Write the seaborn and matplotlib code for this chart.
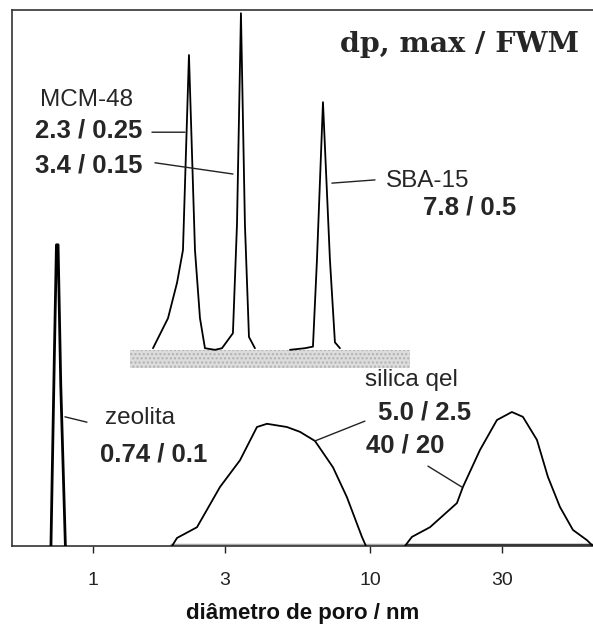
import matplotlib
matplotlib.use("Agg")
import matplotlib.pyplot as plt
import seaborn as sns
import pandas as pd

# ---- data (pore diameter in nm, relative intensity) ----
zeolite_x = [0.705, 0.725, 0.738, 0.748, 0.765, 0.795]
zeolite_y = [0.0, 0.35, 0.562, 0.562, 0.30, 0.0]

mcm48_x = [1.647, 1.866, 2.011, 2.113, 2.221, 2.335, 2.434, 2.537, 2.757,
           2.923, 3.201, 3.311, 3.422, 3.537, 3.658, 3.844]
mcm48_y = [0.369, 0.425, 0.491, 0.552, 0.916, 0.552, 0.425, 0.369, 0.366,
           0.369, 0.397, 0.60, 0.994, 0.60, 0.390, 0.369]

sba15_x = [5.143, 5.826, 6.227, 6.438, 6.768, 7.171, 7.475, 7.794]
sba15_y = [0.366, 0.369, 0.372, 0.534, 0.828, 0.534, 0.380, 0.369]

silica1_x = [1.929, 2.011, 2.374, 2.874, 3.395, 3.909, 4.249, 5.015, 5.589,
             6.332, 7.353, 8.260, 9.357, 9.674]
silica1_y = [0.0, 0.015, 0.035, 0.110, 0.160, 0.222, 0.228, 0.222, 0.213,
             0.196, 0.147, 0.091, 0.017, 0.0]

silica2_x = [13.38, 14.18, 16.47, 20.61, 21.66, 24.96, 28.74, 32.55, 35.67,
             40.09, 43.92, 48.53, 54.07, 60.73, 63.85]
silica2_y = [0.0, 0.017, 0.035, 0.080, 0.110, 0.179, 0.235, 0.250, 0.241,
             0.198, 0.129, 0.073, 0.030, 0.011, 0.0]

tick_values = [1, 3, 10, 30]
tick_labels = ["1", "3", "10", "30"]

frames = []
for name, xs, ys in [("zeolita", zeolite_x, zeolite_y),
                     ("MCM-48", mcm48_x, mcm48_y),
                     ("SBA-15", sba15_x, sba15_y),
                     ("silica gel 1", silica1_x, silica1_y),
                     ("silica gel 2", silica2_x, silica2_y)]:
    frames.append(pd.DataFrame({"material": name, "d": xs, "I": ys}))
df = pd.concat(frames, ignore_index=True)

sns.set_theme(style="white")
plt.rcParams["font.family"] = ["Liberation Sans", "DejaVu Sans"]

fig = plt.figure(figsize=(5.93, 6.41), dpi=100)
ax = fig.add_axes([12 / 593, 95 / 641, 581 / 593, 536 / 641])
ax.set_xscale("log")

# gray hatched baseline band of the inset
ax.fill_between([1.36, 13.95], 0.332, 0.366, facecolor="#dcdcdc",
                edgecolor="#b0b0b0", hatch="....", linewidth=0, zorder=1)

# gray/dark baseline along bottom axis
ax.plot([1.9, 13.5], [0.002, 0.002], color="#a8a8a8", lw=2.5,
        solid_capstyle="butt", zorder=2)
ax.plot([13.5, 64], [0.002, 0.002], color="#3a3a3a", lw=2.5,
        solid_capstyle="butt", zorder=2)

palette = {m: "black" for m in df["material"].unique()}
sns.lineplot(data=df[df["material"] != "zeolita"], x="d", y="I",
             hue="material", units="material", estimator=None, sort=False,
             palette=palette, legend=False, linewidth=1.3, ax=ax, zorder=3)
sns.lineplot(data=df[df["material"] == "zeolita"], x="d", y="I",
             estimator=None, sort=False, color="black", legend=False,
             linewidth=2.0, ax=ax, zorder=3)

ax.set_xlim(0.51, 63.9)
ax.set_ylim(0, 1.0)
ax.set_yticks([])
ax.set_xticks(tick_values)
ax.set_xticklabels(tick_labels)
ax.xaxis.set_minor_locator(matplotlib.ticker.NullLocator())
ax.tick_params(axis="x", direction="out", length=5, width=1, pad=14,
               labelsize=14, colors="#222222", bottom=True)
ax.set_xlabel("diâmetro de poro / nm", fontsize=16, fontweight="bold",
              labelpad=10, color="#111111")
ax.set_ylabel("")
for s in ["left", "top", "bottom"]:
    ax.spines[s].set_visible(True)
    ax.spines[s].set_color("#333333")
    ax.spines[s].set_linewidth(1.2)
ax.spines["right"].set_visible(False)

bold_num = ["Liberation Sans", "DejaVu Sans"]
ax.text(56.8, 0.935, "dp, max / FWM", ha="right", va="center",
        family=["DejaVu Serif"], fontweight="bold", fontsize=20.5)
ax.text(0.644, 0.832, "MCM-48", ha="left", va="center", fontsize=17.5)
ax.text(0.617, 0.776, "2.3 / 0.25", ha="left", va="center", family=bold_num,
        fontweight="bold", fontsize=18.5)
ax.text(0.617, 0.709, "3.4 / 0.15", ha="left", va="center", family=bold_num,
        fontweight="bold", fontsize=18.5)
ax.text(11.42, 0.681, "SBA-15", ha="left", va="center", fontsize=17.5)
ax.text(15.54, 0.632, "7.8 / 0.5", ha="left", va="center", family=bold_num,
        fontweight="bold", fontsize=18.5)
ax.text(1.105, 0.239, "zeolita", ha="left", va="center", fontsize=17.5)
ax.text(1.060, 0.170, "0.74 / 0.1", ha="left", va="center", family=bold_num,
        fontweight="bold", fontsize=18.5)
ax.text(9.59, 0.310, "silica qel", ha="left", va="center", fontsize=17.5)
ax.text(10.69, 0.250, "5.0 / 2.5", ha="left", va="center", family=bold_num,
        fontweight="bold", fontsize=18.5)
ax.text(9.67, 0.188, "40 / 20", ha="left", va="center", family=bold_num,
        fontweight="bold", fontsize=18.5)

# leader lines
leaders = [((1.633, 0.772), (2.148, 0.772)),
           ((1.674, 0.715), (3.201, 0.694)),
           ((7.29, 0.677), (10.43, 0.683)),
           ((0.792, 0.241), (0.951, 0.231)),
           ((6.332, 0.196), (9.59, 0.233)),
           ((16.20, 0.149), (21.48, 0.110))]
for (x0, y0), (x1, y1) in leaders:
    ax.annotate("", xy=(x1, y1), xytext=(x0, y0),
                arrowprops=dict(arrowstyle="-", color="#222222", lw=1.0,
                                shrinkA=0, shrinkB=0))

fig.savefig("out.png", dpi=100)
